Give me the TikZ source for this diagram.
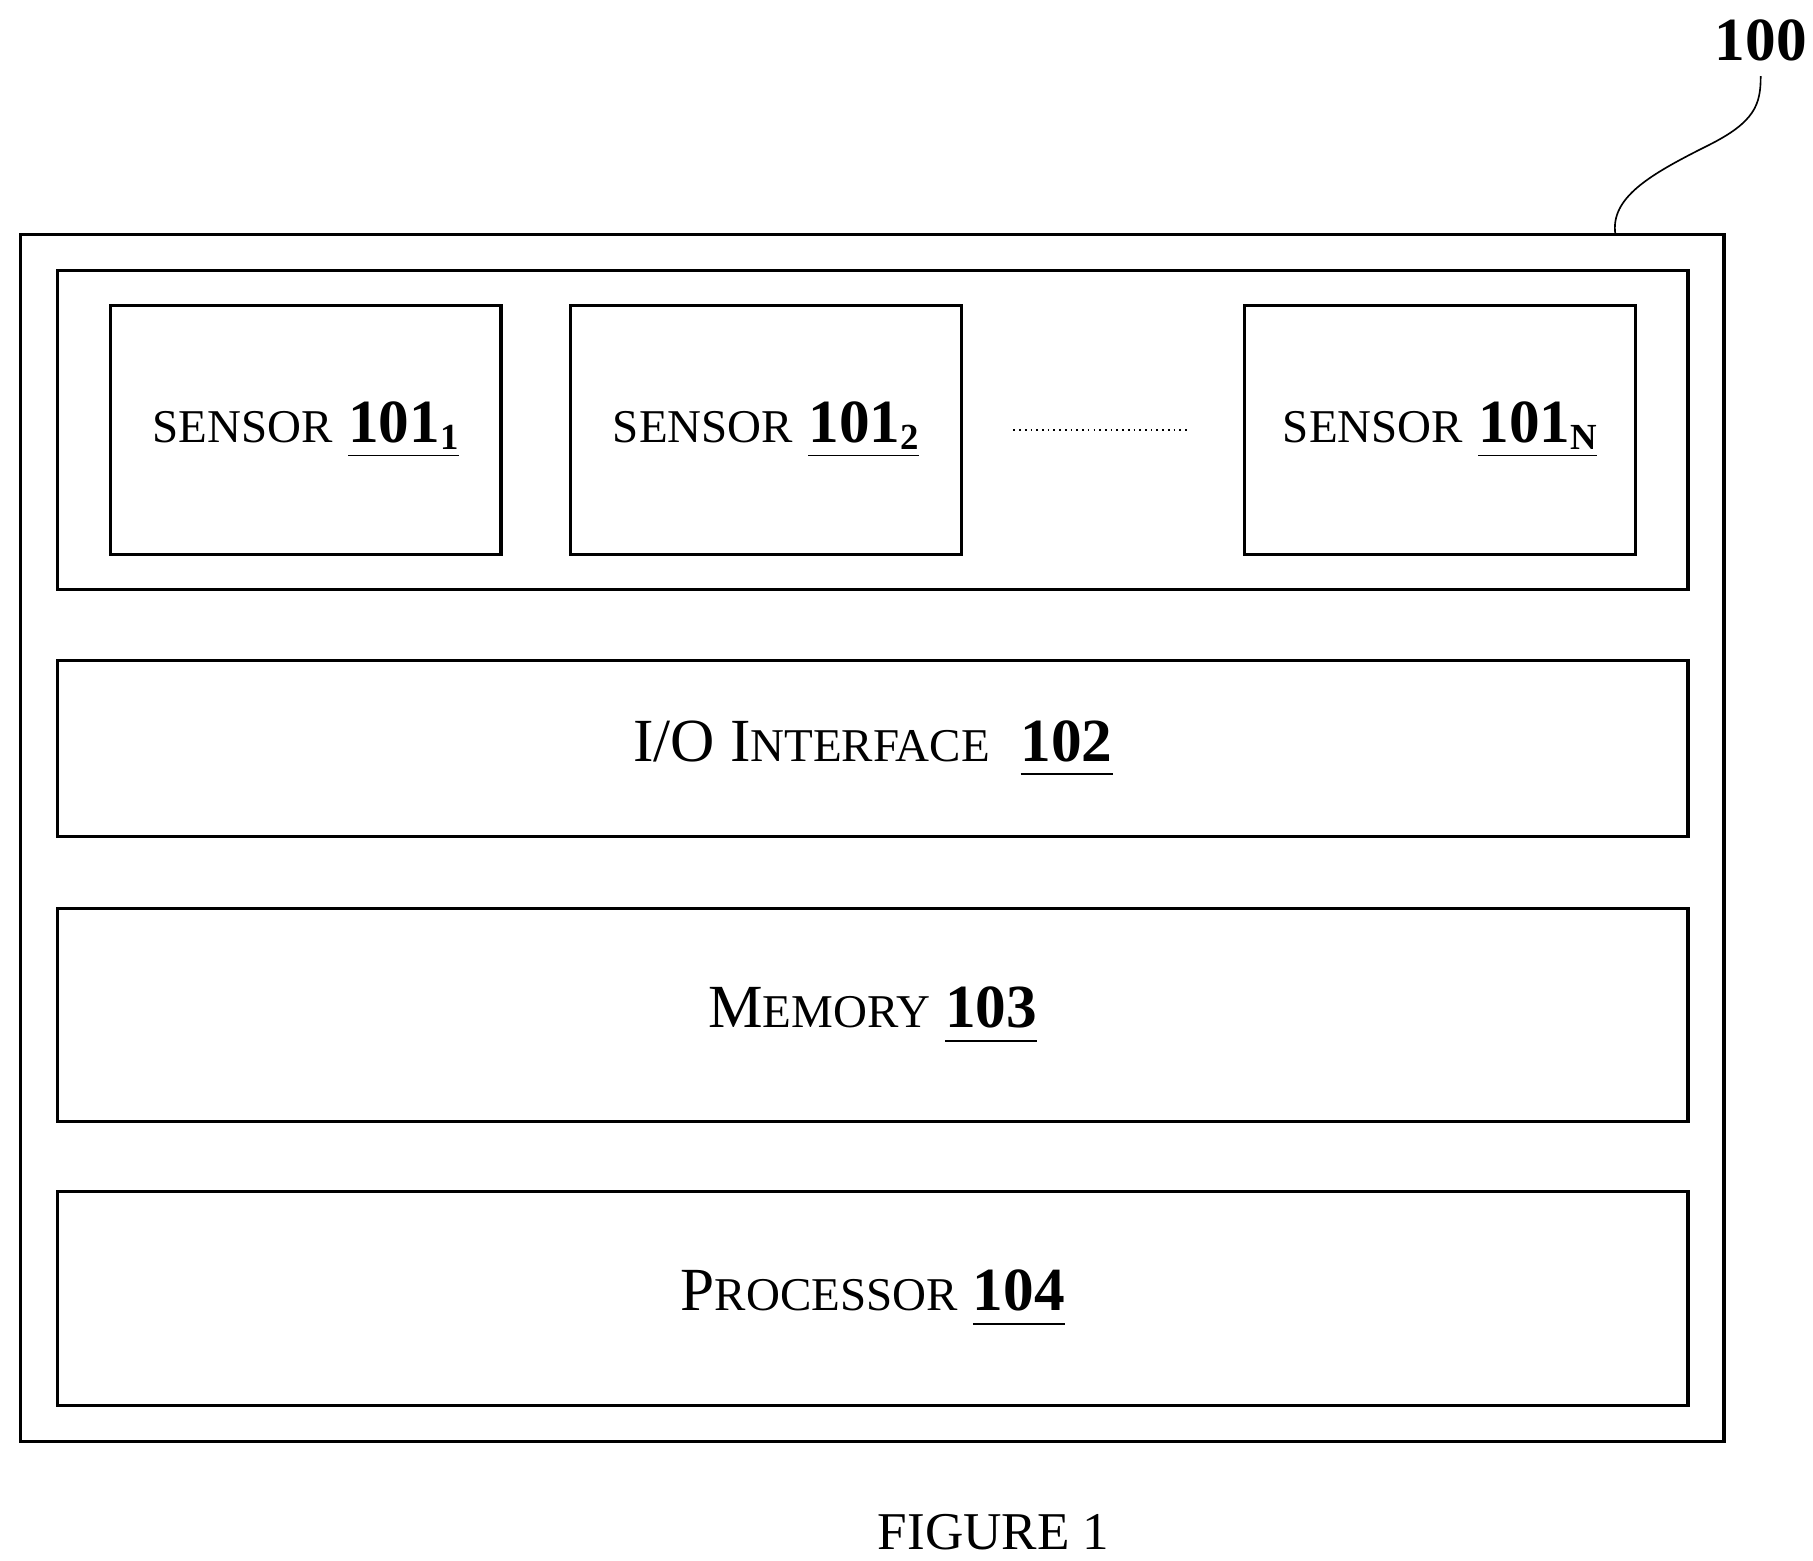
\documentclass[tikz,border=0pt]{standalone}
\usepackage{fontspec}
\setmainfont{Liberation Serif}
\usetikzlibrary{positioning}
\newcommand{\refnum}[2]{\underline{\textbf{#1}\raisebox{-0.25ex}{\fontsize{9}{10}\selectfont\textbf{#2}}}}
\newcommand{\capsize}{\fontsize{15}{18}\selectfont}
\newcommand{\scsize}{\fontsize{11.5}{14}\selectfont}
\begin{document}
\begin{tikzpicture}[x=0.01cm, y=-0.01cm, semithick]
	\tikzstyle{block} = [draw, line width=0.75pt, rectangle, inner sep=0pt, font={\capsize}]
	\tikzstyle{sensor} = [block, minimum width=3.36cm, minimum height=2.14cm]
	\tikzstyle{layer} = [block, minimum width=14.02cm]

	\useasboundingbox (0,0) rectangle (1560,1343);

	\node[block, minimum width=14.65cm, minimum height=10.38cm] (outer) at (750.5,721) {};
	\node[block, minimum width=14.02cm, minimum height=2.74cm] (group) at (751,370) {};

	\node[sensor] (s1) at (263,370) {{\scsize SENSOR} \refnum{101}{1}};
	\node[sensor] (s2) at (659,370) {{\scsize SENSOR} \refnum{101}{2}};
	\node[sensor] (sn) at (1239,370) {{\scsize SENSOR} \refnum{101}{N}};
	\coordinate (d1) at (872,370);
	\coordinate (d2) at (1021,370);
	\draw[densely dotted, thin] (d1) -- (d2);

	\node[layer, minimum height=1.52cm] (io) at (751,644) {I/O I{\scsize NTERFACE}\ \ \refnum{102}{}};
	\node[layer, minimum height=1.83cm] (mem) at (751,873.5) {M{\scsize EMORY} \refnum{103}{}};
	\node[layer, minimum height=1.84cm] (proc) at (751,1117) {P{\scsize ROCESSOR} \refnum{104}{}};

	% reference label
	\node[font={\capsize\bfseries}] (lbl) at (1515,35) {100};
	\coordinate (tip) at (1390,202);
	\draw[thin] (tip) .. controls (1385,170) and (1420,150) .. (1470,125)
		.. controls (1510,105) and (1515,90) .. (lbl.south);

	\node[font={\fontsize{13}{16}\selectfont}] (fig) at (855,1318) {FIGURE 1};
\end{tikzpicture}
\end{document}
